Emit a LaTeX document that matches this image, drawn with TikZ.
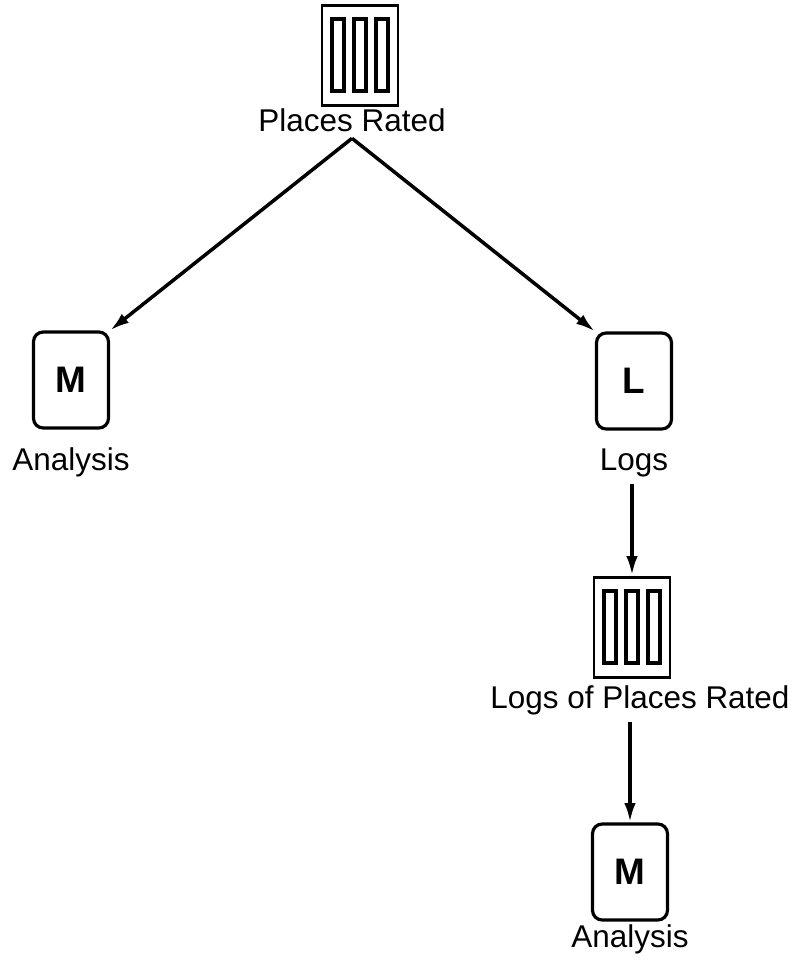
\documentclass[tikz,border=0pt]{standalone}
\usepackage{fontspec}
\setmainfont{Liberation Sans}
\usetikzlibrary{arrows.meta}

\tikzset{
  proc/.style={draw, line width=1.8pt, rounded corners=5.5pt, minimum width=1.5cm,
    minimum height=1.92cm, font=\fontsize{21}{24}\selectfont\bfseries},
  dataset/.style={draw, line width=1.7pt, minimum width=1.52cm, minimum height=2cm,
    path picture={\foreach \dx in {-0.44,0,0.44}
      {\draw[line width=1.8pt] ([xshift=\dx cm]path picture bounding box.center)
        +(-0.12cm,-0.72cm) rectangle +(0.12cm,0.72cm);}}},
  lbl/.style={anchor=base, inner sep=3pt, font=\fontsize{17.9}{20}\selectfont},
}

\begin{document}
\begin{tikzpicture}[>={Latex[length=11pt,width=6.5pt]}, line width=2pt]
    \useasboundingbox (0,0) rectangle (15.98,-19.3);
    \node[dataset] (places) at (7.2,-1.1) {};
    \node[lbl] (places-lbl) at (7.04,-2.62) {Places Rated};
    \node[proc] (anal-a) at (1.42,-7.6) {M};
    \node[lbl] (anal-a-lbl) at (1.42,-9.4) {Analysis};
    \node[proc] (logs) at (12.68,-7.62) {L};
    \node[lbl] (logs-lbl) at (12.68,-9.4) {Logs};
    \node[dataset] (logplaces) at (12.64,-12.54) {};
    \node[lbl] (logplaces-lbl) at (12.8,-14.16) {Logs of Places Rated};
    \node[proc] (anal-b) at (12.6,-17.44) {M};
    \node[lbl] (anal-b-lbl) at (12.6,-18.94) {Analysis};

    \draw[->] (places-lbl.south) -- (anal-a.north east);
    \draw[->] (places-lbl.south) -- (logs.north west);
    \draw[->] (logs-lbl.south -| logplaces.north) -- (logplaces.north);
    \draw[->] (logplaces-lbl.south -| anal-b.north) -- (anal-b.north);
\end{tikzpicture}
\end{document}
